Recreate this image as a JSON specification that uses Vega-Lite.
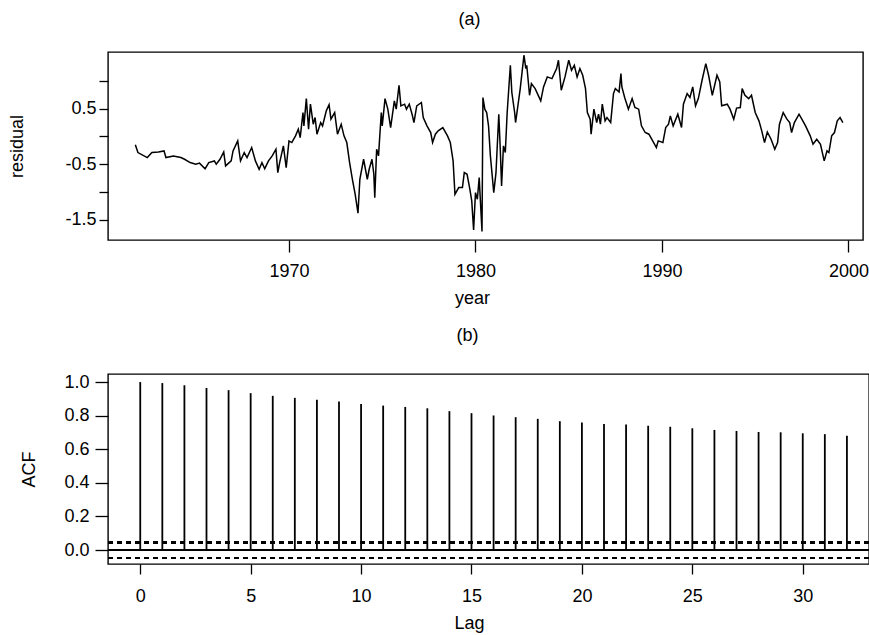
{
  "$schema": "https://vega.github.io/schema/vega-lite/v6.json",
  "padding": {"left": 7, "top": 10, "right": 2, "bottom": 2},
  "background": "white",
  "spacing": 18,
  "config": {
    "view": {"stroke": "black", "strokeWidth": 1.4},
    "font": "Liberation Sans",
    "axis": {"domain": false, "grid": false, "tickColor": "black", "tickWidth": 1.3, "labelColor": "black", "labelFontSize": 18, "titleFontSize": 18, "titleFontWeight": "normal", "titleColor": "black", "labelFont": "Liberation Sans", "titleFont": "Liberation Sans"},
    "title": {"fontSize": 18, "fontWeight": "normal", "color": "black", "font": "Liberation Sans"}
  },
  "datasets": {
    "resid": [
      {"year":1961.76,"residual":-0.15},{"year":1961.9,"residual":-0.29},{"year":1962.4,"residual":-0.38},{"year":1962.65,"residual":-0.29},{"year":1963.0,"residual":-0.28},{"year":1963.3,"residual":-0.26},{"year":1963.4,"residual":-0.38},{"year":1963.8,"residual":-0.35},{"year":1964.2,"residual":-0.38},{"year":1964.4,"residual":-0.41},{"year":1964.7,"residual":-0.47},{"year":1965.0,"residual":-0.50},{"year":1965.2,"residual":-0.48},{"year":1965.5,"residual":-0.58},{"year":1965.7,"residual":-0.47},{"year":1966.0,"residual":-0.44},{"year":1966.1,"residual":-0.50},{"year":1966.3,"residual":-0.41},{"year":1966.5,"residual":-0.28},{"year":1966.6,"residual":-0.53},{"year":1966.9,"residual":-0.44},{"year":1967.0,"residual":-0.26},{"year":1967.25,"residual":-0.08},{"year":1967.4,"residual":-0.44},{"year":1967.6,"residual":-0.29},{"year":1967.75,"residual":-0.38},{"year":1968.0,"residual":-0.20},{"year":1968.2,"residual":-0.44},{"year":1968.4,"residual":-0.59},{"year":1968.55,"residual":-0.47},{"year":1968.7,"residual":-0.58},{"year":1968.9,"residual":-0.44},{"year":1969.1,"residual":-0.35},{"year":1969.3,"residual":-0.23},{"year":1969.4,"residual":-0.65},{"year":1969.5,"residual":-0.47},{"year":1969.7,"residual":-0.17},{"year":1969.85,"residual":-0.56},{"year":1970.0,"residual":-0.08},{"year":1970.15,"residual":-0.11},{"year":1970.35,"residual":0.01},{"year":1970.5,"residual":0.13},{"year":1970.6,"residual":-0.02},{"year":1970.75,"residual":0.43},{"year":1970.8,"residual":0.19},{"year":1970.93,"residual":0.68},{"year":1971.05,"residual":0.13},{"year":1971.15,"residual":0.58},{"year":1971.3,"residual":0.22},{"year":1971.4,"residual":0.34},{"year":1971.5,"residual":0.04},{"year":1971.7,"residual":0.25},{"year":1971.8,"residual":0.19},{"year":1972.0,"residual":0.46},{"year":1972.15,"residual":0.57},{"year":1972.25,"residual":0.31},{"year":1972.45,"residual":0.43},{"year":1972.6,"residual":0.04},{"year":1972.8,"residual":0.22},{"year":1972.95,"residual":0.01},{"year":1973.1,"residual":-0.11},{"year":1973.25,"residual":-0.47},{"year":1973.4,"residual":-0.77},{"year":1973.55,"residual":-1.04},{"year":1973.7,"residual":-1.38},{"year":1973.8,"residual":-0.77},{"year":1974.0,"residual":-0.41},{"year":1974.15,"residual":-0.68},{"year":1974.2,"residual":-0.77},{"year":1974.3,"residual":-0.59},{"year":1974.45,"residual":-0.41},{"year":1974.55,"residual":-0.68},{"year":1974.6,"residual":-1.10},{"year":1974.7,"residual":-0.23},{"year":1974.8,"residual":-0.35},{"year":1974.95,"residual":0.43},{"year":1975.0,"residual":0.19},{"year":1975.15,"residual":0.68},{"year":1975.3,"residual":0.49},{"year":1975.45,"residual":0.16},{"year":1975.65,"residual":0.64},{"year":1975.75,"residual":0.49},{"year":1975.9,"residual":0.92},{"year":1976.0,"residual":0.55},{"year":1976.2,"residual":0.58},{"year":1976.3,"residual":0.49},{"year":1976.45,"residual":0.58},{"year":1976.6,"residual":0.40},{"year":1976.7,"residual":0.25},{"year":1976.85,"residual":0.55},{"year":1977.1,"residual":0.61},{"year":1977.2,"residual":0.34},{"year":1977.4,"residual":0.19},{"year":1977.6,"residual":0.07},{"year":1977.7,"residual":-0.11},{"year":1977.85,"residual":0.04},{"year":1978.0,"residual":0.10},{"year":1978.25,"residual":0.16},{"year":1978.5,"residual":0.01},{"year":1978.65,"residual":-0.11},{"year":1978.8,"residual":-0.44},{"year":1978.9,"residual":-1.04},{"year":1979.1,"residual":-0.92},{"year":1979.3,"residual":-0.92},{"year":1979.4,"residual":-0.65},{"year":1979.55,"residual":-0.68},{"year":1979.7,"residual":-0.95},{"year":1979.8,"residual":-1.16},{"year":1979.9,"residual":-1.68},{"year":1980.0,"residual":-1.01},{"year":1980.1,"residual":-1.13},{"year":1980.2,"residual":-0.74},{"year":1980.25,"residual":-1.07},{"year":1980.35,"residual":-1.71},{"year":1980.4,"residual":0.70},{"year":1980.5,"residual":0.49},{"year":1980.6,"residual":0.43},{"year":1980.7,"residual":0.19},{"year":1980.8,"residual":-0.35},{"year":1980.98,"residual":-1.01},{"year":1981.1,"residual":-0.65},{"year":1981.25,"residual":0.40},{"year":1981.33,"residual":-0.23},{"year":1981.4,"residual":-0.89},{"year":1981.5,"residual":-0.17},{"year":1981.6,"residual":-0.29},{"year":1981.7,"residual":0.43},{"year":1981.87,"residual":1.28},{"year":1981.95,"residual":0.79},{"year":1982.1,"residual":0.43},{"year":1982.15,"residual":0.25},{"year":1982.25,"residual":0.49},{"year":1982.4,"residual":0.86},{"year":1982.5,"residual":1.16},{"year":1982.6,"residual":1.46},{"year":1982.7,"residual":1.22},{"year":1982.75,"residual":1.28},{"year":1982.9,"residual":0.74},{"year":1983.0,"residual":0.95},{"year":1983.2,"residual":0.86},{"year":1983.5,"residual":0.64},{"year":1983.65,"residual":0.89},{"year":1983.85,"residual":1.07},{"year":1984.1,"residual":1.04},{"year":1984.35,"residual":1.22},{"year":1984.45,"residual":1.37},{"year":1984.6,"residual":0.83},{"year":1984.8,"residual":1.07},{"year":1985.0,"residual":1.37},{"year":1985.15,"residual":1.19},{"year":1985.3,"residual":1.28},{"year":1985.45,"residual":1.07},{"year":1985.6,"residual":1.22},{"year":1985.75,"residual":1.10},{"year":1985.9,"residual":0.86},{"year":1986.0,"residual":0.43},{"year":1986.15,"residual":0.31},{"year":1986.2,"residual":0.04},{"year":1986.35,"residual":0.49},{"year":1986.5,"residual":0.25},{"year":1986.6,"residual":0.40},{"year":1986.7,"residual":0.22},{"year":1986.8,"residual":0.58},{"year":1986.95,"residual":0.28},{"year":1987.05,"residual":0.34},{"year":1987.25,"residual":0.25},{"year":1987.4,"residual":0.77},{"year":1987.5,"residual":0.86},{"year":1987.7,"residual":0.80},{"year":1987.8,"residual":1.13},{"year":1987.85,"residual":0.89},{"year":1988.0,"residual":0.70},{"year":1988.2,"residual":0.49},{"year":1988.4,"residual":0.68},{"year":1988.55,"residual":0.52},{"year":1988.75,"residual":0.49},{"year":1988.9,"residual":0.19},{"year":1989.1,"residual":0.07},{"year":1989.3,"residual":0.04},{"year":1989.45,"residual":-0.05},{"year":1989.7,"residual":-0.20},{"year":1989.8,"residual":-0.08},{"year":1990.05,"residual":-0.11},{"year":1990.2,"residual":0.16},{"year":1990.35,"residual":0.22},{"year":1990.45,"residual":0.37},{"year":1990.6,"residual":0.19},{"year":1990.85,"residual":0.40},{"year":1991.05,"residual":0.16},{"year":1991.15,"residual":0.58},{"year":1991.35,"residual":0.77},{"year":1991.5,"residual":0.70},{"year":1991.65,"residual":0.89},{"year":1991.8,"residual":0.55},{"year":1991.95,"residual":0.68},{"year":1992.15,"residual":1.01},{"year":1992.35,"residual":1.31},{"year":1992.5,"residual":1.10},{"year":1992.7,"residual":0.74},{"year":1992.95,"residual":1.10},{"year":1993.1,"residual":0.98},{"year":1993.2,"residual":0.55},{"year":1993.5,"residual":0.58},{"year":1993.65,"residual":0.49},{"year":1993.85,"residual":0.31},{"year":1994.0,"residual":0.51},{"year":1994.2,"residual":0.52},{"year":1994.3,"residual":0.86},{"year":1994.45,"residual":0.74},{"year":1994.65,"residual":0.68},{"year":1994.8,"residual":0.74},{"year":1995.0,"residual":0.43},{"year":1995.2,"residual":0.28},{"year":1995.35,"residual":0.10},{"year":1995.5,"residual":-0.11},{"year":1995.65,"residual":0.08},{"year":1995.85,"residual":-0.05},{"year":1996.05,"residual":-0.23},{"year":1996.2,"residual":-0.11},{"year":1996.3,"residual":0.22},{"year":1996.5,"residual":0.43},{"year":1996.7,"residual":0.31},{"year":1996.85,"residual":0.25},{"year":1996.95,"residual":0.07},{"year":1997.1,"residual":0.25},{"year":1997.35,"residual":0.40},{"year":1997.5,"residual":0.31},{"year":1997.7,"residual":0.19},{"year":1997.95,"residual":0.01},{"year":1998.1,"residual":-0.14},{"year":1998.3,"residual":-0.05},{"year":1998.5,"residual":-0.14},{"year":1998.7,"residual":-0.44},{"year":1998.85,"residual":-0.26},{"year":1998.95,"residual":-0.29},{"year":1999.1,"residual":0.01},{"year":1999.25,"residual":0.07},{"year":1999.4,"residual":0.28},{"year":1999.55,"residual":0.34},{"year":1999.7,"residual":0.25}
    ],
    "acf": [
      {"lag":0,"acf":1.0},{"lag":1,"acf":0.994},{"lag":2,"acf":0.981},{"lag":3,"acf":0.965},{"lag":4,"acf":0.952},{"lag":5,"acf":0.934},{"lag":6,"acf":0.918},{"lag":7,"acf":0.906},{"lag":8,"acf":0.895},{"lag":9,"acf":0.885},{"lag":10,"acf":0.869},{"lag":11,"acf":0.86},{"lag":12,"acf":0.852},{"lag":13,"acf":0.844},{"lag":14,"acf":0.827},{"lag":15,"acf":0.815},{"lag":16,"acf":0.801},{"lag":17,"acf":0.791},{"lag":18,"acf":0.781},{"lag":19,"acf":0.767},{"lag":20,"acf":0.759},{"lag":21,"acf":0.75},{"lag":22,"acf":0.748},{"lag":23,"acf":0.74},{"lag":24,"acf":0.734},{"lag":25,"acf":0.725},{"lag":26,"acf":0.715},{"lag":27,"acf":0.709},{"lag":28,"acf":0.703},{"lag":29,"acf":0.701},{"lag":30,"acf":0.695},{"lag":31,"acf":0.69},{"lag":32,"acf":0.68}
    ]
  },
  "vconcat": [
    {
      "title": {"text": "(a)", "dx": -16, "offset": 23},
      "width": 755,
      "height": 188,
      "data": {"name": "resid"},
      "mark": {"type": "line", "color": "black", "strokeWidth": 1.5},
      "encoding": {
        "x": {"field": "year", "type": "quantitative",
              "scale": {"domain": [1960.295, 2000.78], "nice": false, "zero": false},
              "axis": {"values": [1970, 1980, 1990, 2000], "format": "d", "tickSize": 12, "labelPadding": 10,
                       "title": "year", "titleX": 364, "titleY": 58, "titleAlign": "center", "titleBaseline": "middle"}},
        "y": {"field": "residual", "type": "quantitative",
              "scale": {"domain": [-1.862, 1.518], "nice": false, "zero": false},
              "axis": {"values": [-1.5, -1, -0.5, 0, 0.5, 1], "tickSize": 9, "labelPadding": 3,
                       "labelExpr": "datum.value == 0.5 ? '0.5' : datum.value == -0.5 ? '-0.5' : datum.value == -1.5 ? '-1.5' : ''",
                       "title": "residual", "titleX": -91, "titleY": 94, "titleAngle": -90, "titleAlign": "center", "titleBaseline": "middle"}}
      }
    },
    {
      "title": {"text": "(b)", "dx": -21, "offset": 28},
      "width": 761,
      "height": 190,
      "data": {"name": "acf"},
      "encoding": {
        "x": {"field": "lag", "type": "quantitative",
              "scale": {"domain": [-1.46, 33.0], "nice": false, "zero": false},
              "axis": {"values": [0, 5, 10, 15, 20, 25, 30], "tickSize": 10, "labelPadding": 13,
                       "title": "Lag", "titleX": 361, "titleY": 59, "titleAlign": "center", "titleBaseline": "middle"}},
        "y": {"field": "acf", "type": "quantitative",
              "scale": {"domain": [-0.083, 1.048], "nice": false, "zero": false},
              "axis": {"values": [0, 0.2, 0.4, 0.6, 0.8, 1.0], "format": ".1f", "tickSize": 13, "labelPadding": 6,
                       "title": "ACF", "titleX": -79, "titleY": 95, "titleAngle": -90, "titleAlign": "center", "titleBaseline": "middle"}}
      },
      "layer": [
        {"mark": {"type": "rule", "color": "black", "strokeWidth": 1.8}, "encoding": {"y2": {"datum": 0}}},
        {"mark": {"type": "rule", "color": "black", "strokeWidth": 1.4}, "encoding": {"x": null, "y": {"datum": 0}}},
        {"mark": {"type": "rule", "color": "black", "strokeWidth": 1.4, "strokeDash": [5, 4]}, "encoding": {"x": null, "y": {"datum": 0.045}}},
        {"mark": {"type": "rule", "color": "black", "strokeWidth": 1.4, "strokeDash": [5, 4]}, "encoding": {"x": null, "y": {"datum": -0.045}}}
      ]
    }
  ]
}
